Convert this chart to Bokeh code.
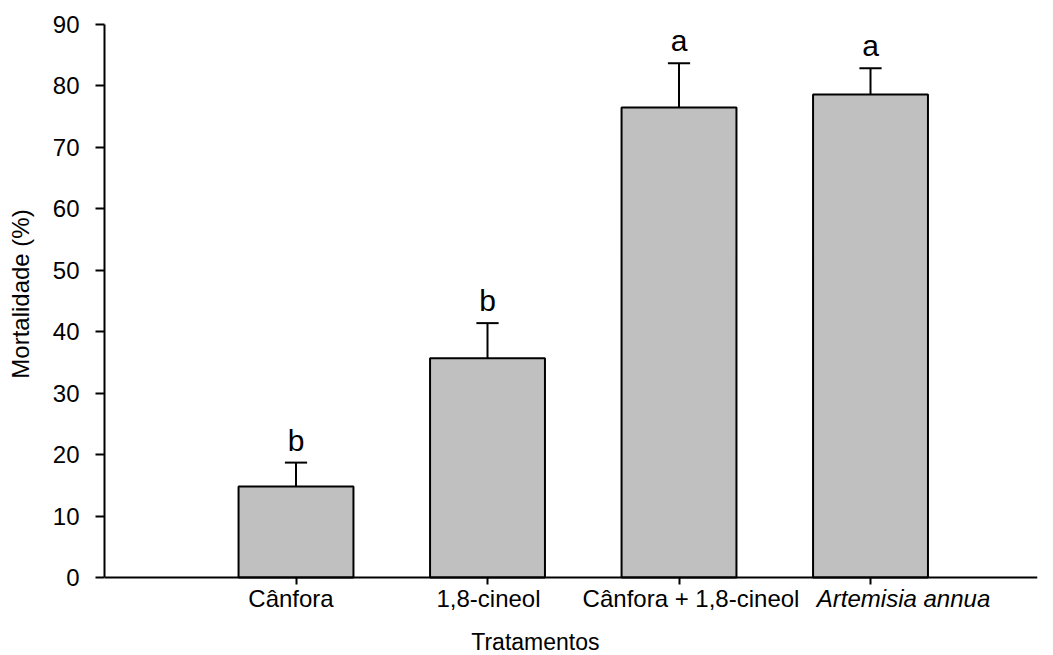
from bokeh.plotting import figure
from bokeh.layouts import row
from bokeh.models import Range1d, FixedTicker, ColumnDataSource
from bokeh.core.properties import value
from bokeh.embed import file_html
from bokeh.resources import INLINE

# Mortality (%) per treatment, with the upper standard-error limit and letters
treatments = ["Cânfora", "1,8-cineol", "Cânfora + 1,8-cineol", "Artemisia annua"]
mortality = [14.8, 35.7, 76.5, 78.6]
upper = [18.7, 41.4, 83.7, 82.9]
letters = ["b", "b", "a", "a"]
y_ticks = [0, 10, 20, 30, 40, 50, 60, 70, 80, 90]

FONT = "Liberation Sans"
positions = list(range(1, len(treatments) + 1))
bar_width = 0.6
cap_half = 0.058

# plot area: axis span of 553 px, with 78 px left under the zero line for names
y_max = 90
axis_px, under_px = 553, 78
y_range = Range1d(-y_max * under_px / axis_px, y_max)
x_range = Range1d(0, 4.872)

src = ColumnDataSource(dict(
    x=positions, top=mortality, up=upper, letter=letters,
    cap_l=[x - cap_half for x in positions],
    cap_r=[x + cap_half for x in positions],
))

p = figure(width=1013, height=655, output_backend="svg", toolbar_location=None,
           x_range=x_range, y_range=y_range, x_axis_location="above",
           min_border_left=64, min_border_right=16,
           min_border_top=24, min_border_bottom=0)
p.outline_line_color = None
p.xgrid.visible = False
p.ygrid.visible = False

# bars
p.vbar(x="x", top="top", width=bar_width, bottom=0, source=src,
       fill_color="#c0c0c0", line_color="black", line_width=2)
# upward error whiskers with caps
p.segment(x0="x", y0="top", x1="x", y1="up", source=src,
          line_color="black", line_width=2)
p.segment(x0="cap_l", y0="up", x1="cap_r", y1="up", source=src,
          line_color="black", line_width=2)
# significance letters
p.text(x="x", y="up", text="letter", source=src, y_offset=-6,
       text_align="center", text_baseline="bottom",
       text_font=value(FONT), text_font_size="30px", text_color="black")

# y axis, drawn only over 0..90
ya = p.yaxis[0]
ya.ticker = FixedTicker(ticks=y_ticks)
ya.bounds = (0, y_max)
ya.minor_tick_line_color = None
ya.major_tick_in = 0
ya.major_tick_out = 9
ya.major_tick_line_width = 2
ya.axis_line_width = 2
ya.major_label_standoff = 16
ya.major_label_text_font = FONT
ya.major_label_text_font_size = "24px"
ya.major_label_text_color = "black"

# x axis pinned to the zero line, ticks pointing down
xa = p.xaxis[0]
xa.fixed_location = 0
xa.ticker = FixedTicker(ticks=positions)
xa.minor_tick_line_color = None
xa.major_tick_in = 7
xa.major_tick_out = 0
xa.major_tick_line_width = 2
xa.axis_line_width = 2
xa.major_label_standoff = 0
xa.major_label_text_font_size = "0px"
xa.major_label_text_color = None

# category names under the ticks
label_shift = [-5, 1, 12, 33]
styles = ["italic" if t == "Artemisia annua" else "normal" for t in treatments]
lab_src = ColumnDataSource(dict(x=positions, y=[0] * len(positions),
                                text=treatments, dx=label_shift, style=styles))
p.text(x="x", y="y", text="text", x_offset="dx", y_offset=21, source=lab_src,
       text_font_style="style", text_align="center", text_baseline="alphabetic",
       text_font=value(FONT), text_font_size="24px", text_color="black")
# x axis title
p.text(x=[2.25], y=[0], text=["Tratamentos"], y_offset=64,
       text_align="center", text_baseline="alphabetic",
       text_font=value(FONT), text_font_size="23px", text_color="black")

# narrow strip on the left carrying the y axis title
ylab = figure(width=40, height=655, output_backend="svg", toolbar_location=None,
              x_range=Range1d(0, 1), y_range=y_range,
              x_axis_type=None, y_axis_type=None,
              min_border_left=0, min_border_right=0,
              min_border_top=24, min_border_bottom=0)
ylab.outline_line_color = None
ylab.xgrid.visible = False
ylab.ygrid.visible = False
ylab.text(x=[0.5], y=[y_max / 2], text=["Mortalidade (%)"], y_offset=-7,
          angle=1.5707963267948966, text_align="center", text_baseline="middle",
          text_font=value(FONT), text_font_size="24px", text_color="black")

layout = row(ylab, p, spacing=0)
open("out.html", "w").write(file_html(layout, INLINE))
